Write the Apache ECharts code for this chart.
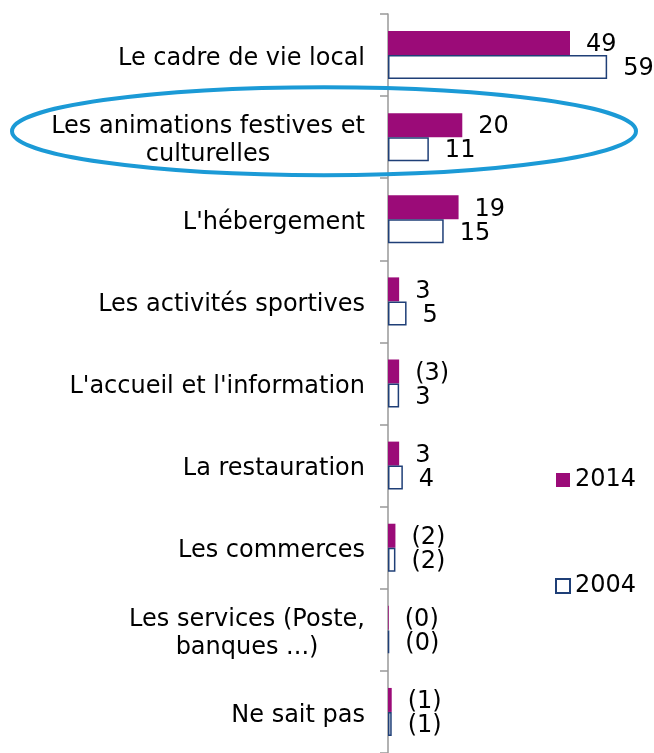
<!DOCTYPE html>
<html><head><meta charset="utf-8">
<script src="https://cdn.jsdelivr.net/npm/echarts@6/dist/echarts.min.js"></script>
<style>html,body{margin:0;padding:0;background:#fff}#c{width:654px;height:753px}</style>
</head><body><div id="c"></div>
<script>
var categories = ["Le cadre de vie local", "Les animations festives et\nculturelles", "L'hébergement", "Les activités sportives", "L'accueil et l'information", "La restauration", "Les commerces", "Les services (Poste,\nbanques ...)", "Ne sait pas"];
var values2014 = [49, 20, 19, 3, 3, 3, 2, 0.2, 1];
var values2004 = [59, 11, 15, 5, 3, 4, 2, 0.3, 1];
var labels2014 = ["49", "20", "19", "3", "(3)", "3", "(2)", "(0)", "(1)"];
var labels2004 = ["59", "11", "15", "5", "3", "4", "(2)", "(0)", "(1)"];
var seriesNames = ["2014", "2004"];

var FONT = "DejaVu Sans";
var FS = 24;
var ctx = document.createElement('canvas').getContext('2d');
ctx.font = FS + 'px "' + FONT + '"';
var rich = {};
function fmtCat(v, i) {
  var lines = v.split('\n');
  if (lines.length === 1) return v;
  var w = Math.ceil(ctx.measureText(lines[0]).width);
  rich['l' + i] = { width: w, align: 'center', fontFamily: FONT, fontSize: FS, color: '#000', lineHeight: 28 };
  return lines.map(function (s) { return '{l' + i + '|' + s + '}'; }).join('\n');
}
var catFormatted = categories.map(fmtCat);

var chart = echarts.init(document.getElementById('c'));
var option = {
  animation: false,
  textStyle: { fontFamily: FONT },
  grid: { left: 388, right: 6, top: 14, bottom: -8, containLabel: false },
  xAxis: { type: 'value', min: 0, max: 70, show: false },
  yAxis: {
    type: 'category', inverse: true, data: categories,
    axisLine: { show: true, lineStyle: { color: '#999', width: 1.5 } },
    axisTick: { show: true, length: 8, lineStyle: { color: '#999', width: 1.5 } },
    axisLabel: {
      margin: 23, color: '#000', fontFamily: FONT, fontSize: FS, lineHeight: 28, padding: [7, 0, 0, 0],
      formatter: function (v, i) { return catFormatted[i]; }, rich: rich
    }
  },
  legend: {
    orient: 'vertical', left: 550, top: 463, itemGap: 82, itemWidth: 14, itemHeight: 14, icon: 'rect',
    textStyle: { fontFamily: FONT, fontSize: FS, color: '#000', lineHeight: 24 },
    data: seriesNames
  },
  series: [
    {
      name: seriesNames[0], type: 'bar', data: values2014, barWidth: 24, barGap: '0%',
      itemStyle: { color: '#9B0B78' },
      label: { show: true, position: 'right', distance: 16, offset: [0, 2], color: '#000', fontFamily: FONT, fontSize: FS,
        formatter: function (p) { return labels2014[p.dataIndex]; } }
    },
    {
      name: seriesNames[1], type: 'bar', data: values2004, barWidth: 24, barGap: '0%',
      itemStyle: { color: '#fff', borderColor: '#1F3F77', borderWidth: 1.5 },
      label: { show: true, position: 'right', distance: 16, offset: [0, 2], color: '#000', fontFamily: FONT, fontSize: FS,
        formatter: function (p) { return labels2004[p.dataIndex]; } }
    }
  ]
};
chart.setOption(option);
var cy = chart.convertToPixel({ yAxisIndex: 0 }, categories[1]);
chart.setOption({
  graphic: [{
    type: 'ellipse', shape: { cx: 324, cy: cy - 6, rx: 312, ry: 44 },
    style: { fill: 'none', stroke: '#1B9AD6', lineWidth: 4 }, z: 100
  }]
});
</script></body></html>
